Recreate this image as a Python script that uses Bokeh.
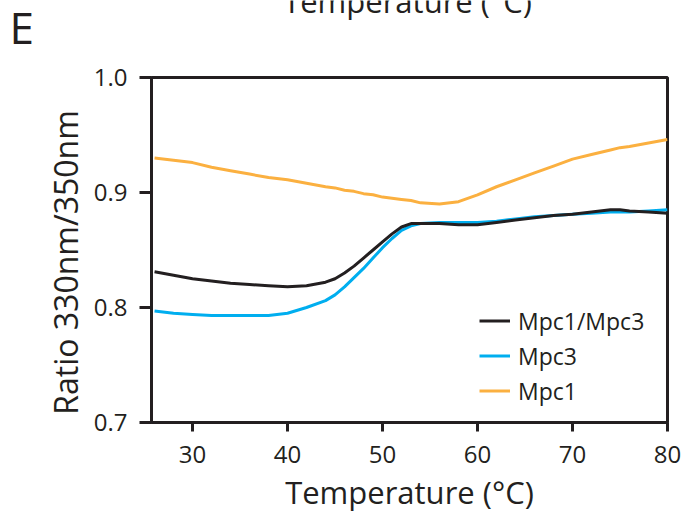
from bokeh.plotting import figure
from bokeh.models import Range1d, FixedTicker, Legend, LegendItem, PrintfTickFormatter
from bokeh.layouts import column
from bokeh.core.properties import value
from bokeh.embed import file_html
from bokeh.resources import INLINE

# ---- data ----
temperature = [26, 28, 30, 32, 34, 36, 38, 40, 42, 44, 45, 46, 47, 48, 49, 50,
               51, 52, 53, 54, 56, 58, 60, 62, 64, 66, 68, 70, 72, 74, 75, 76, 78, 80]
mpc1_mpc3 = [0.831, 0.828, 0.825, 0.823, 0.821, 0.820, 0.819, 0.818, 0.819, 0.822,
             0.825, 0.830, 0.836, 0.843, 0.850, 0.857, 0.864, 0.870, 0.873, 0.873,
             0.873, 0.872, 0.872, 0.874, 0.876, 0.878, 0.880, 0.881, 0.883, 0.885,
             0.885, 0.884, 0.883, 0.882]
mpc3 = [0.797, 0.795, 0.794, 0.793, 0.793, 0.793, 0.793, 0.795, 0.800, 0.806,
        0.811, 0.818, 0.826, 0.834, 0.843, 0.852, 0.860, 0.867, 0.871, 0.873,
        0.874, 0.874, 0.874, 0.875, 0.877, 0.879, 0.880, 0.881, 0.882, 0.883,
        0.883, 0.883, 0.884, 0.885]
mpc1 = [0.930, 0.928, 0.926, 0.922, 0.919, 0.916, 0.913, 0.911, 0.908, 0.905,
        0.904, 0.902, 0.901, 0.899, 0.898, 0.896, 0.895, 0.894, 0.893, 0.891,
        0.890, 0.892, 0.898, 0.905, 0.911, 0.917, 0.923, 0.929, 0.933, 0.937,
        0.939, 0.940, 0.943, 0.946]
series_names = ["Mpc1/Mpc3", "Mpc3", "Mpc1"]
series_colors = ["#231f20", "#00aeef", "#fbb040"]
x_ticks = [30, 40, 50, 60, 70, 80]
y_ticks = [0.7, 0.8, 0.9, 1.0]
panel_letter = "E"
upper_caption = "Temperature (°C)"

FONT = "Open Sans"
INK = "#231f20"
W, H = 683, 515
HEAD = 60

# ---- header strip: panel letter and the cut-off caption of the panel above ----
head = figure(width=W, height=HEAD, output_backend="svg", toolbar_location=None,
              x_range=Range1d(0, W), y_range=Range1d(0, HEAD),
              x_axis_location=None, y_axis_location=None, min_border=0)
head.grid.visible = False
head.outline_line_color = None
head.background_fill_color = "white"
head.border_fill_color = "white"
head.text(x=[9], y=[HEAD - 26], text=[panel_letter], text_font=value(FONT),
          text_font_size="44px", text_color=INK, text_baseline="alphabetic",
          text_align="left")
head.text(x=[407], y=[HEAD], text=[upper_caption], text_font=value(FONT),
          text_font_size="31px", text_color=INK, text_baseline="alphabetic",
          text_align="center")

# ---- main chart ----
p = figure(width=W, height=H - HEAD, output_backend="svg", toolbar_location=None,
           x_range=Range1d(25.68, 80), y_range=Range1d(0.7, 1.0),
           min_border_left=151, min_border_right=16, min_border_top=77 - HEAD,
           min_border_bottom=92)
p.background_fill_color = "white"
p.border_fill_color = "white"
p.grid.visible = False
p.outline_line_color = INK
p.outline_line_width = 3

for fig in (head, p):
    try:
        fig.frame_align = False
    except Exception:
        pass

for ax in (p.xaxis[0], p.yaxis[0]):
    ax.axis_line_width = 3
    ax.axis_line_color = INK
    ax.major_tick_line_width = 3
    ax.major_tick_line_color = INK
    ax.major_tick_in = 0
    ax.minor_tick_line_color = None
    ax.major_label_text_font = FONT
    ax.major_label_text_font_size = "24px"
    ax.major_label_text_color = INK
    ax.axis_label_text_font = FONT
    ax.axis_label_text_font_style = "normal"
    ax.axis_label_text_color = INK

p.xaxis.ticker = FixedTicker(ticks=x_ticks)
p.xaxis.major_tick_out = 9
p.xaxis.major_label_standoff = 14
p.xaxis.axis_label = "Temperature (°C)"
p.xaxis.axis_label_text_font_size = "31px"
p.xaxis.axis_label_standoff = 5

p.yaxis.ticker = FixedTicker(ticks=y_ticks)
p.yaxis.formatter = PrintfTickFormatter(format="%.1f")
p.yaxis.major_tick_out = 12
p.yaxis.major_label_standoff = 12
p.yaxis.axis_label = "Ratio 330nm/350nm\u00a0\u00a0\u00a0"
p.yaxis.axis_label_text_font_size = "32px"
p.yaxis.axis_label_standoff = 4

renderers = {}
for name, vals, col in list(zip(series_names, [mpc1_mpc3, mpc3, mpc1], series_colors))[::-1]:
    renderers[name] = p.line(temperature, vals, line_color=col, line_width=3)

legend = Legend(items=[LegendItem(label=n, renderers=[renderers[n]]) for n in series_names],
                location=(328, 14), orientation="vertical",
                border_line_color=None, background_fill_alpha=0,
                padding=0, margin=0, spacing=0,
                glyph_width=31, glyph_height=35, label_height=35, label_standoff=8,
                label_text_font=FONT, label_text_font_size="23px", label_text_color=INK)
p.add_layout(legend, "center")

layout = column(head, p, spacing=0)
open("out.html", "w").write(file_html(layout, INLINE))
